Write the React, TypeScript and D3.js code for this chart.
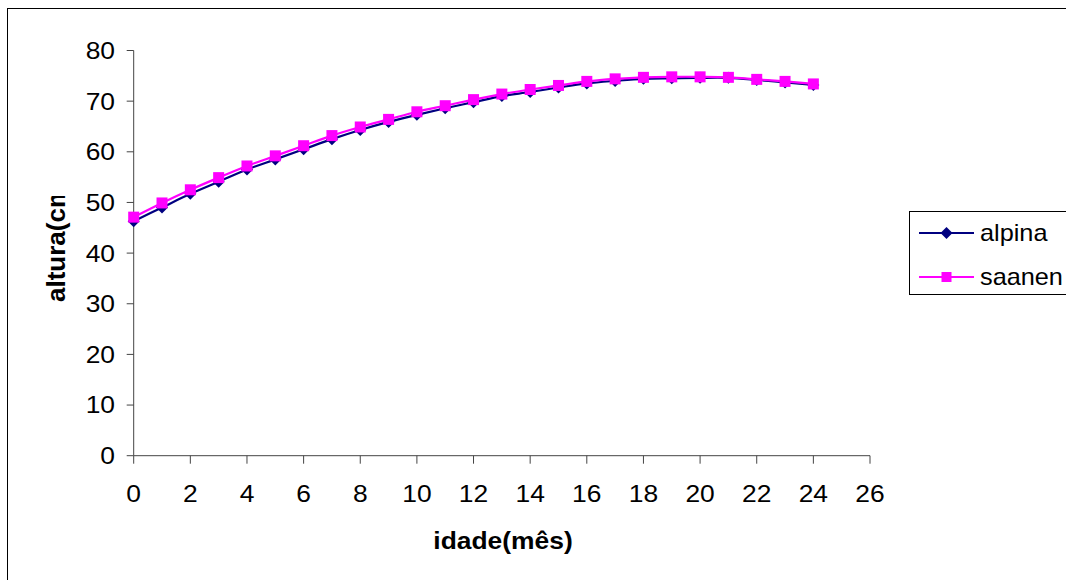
import React from "react";
import * as d3 from "d3";

const months = [0,1,2,3,4,5,6,7,8,9,10,11,12,13,14,15,16,17,18,19,20,21,22,23,24];
const alpina = [46.3,49.0,51.7,54.1,56.5,58.5,60.5,62.5,64.3,65.9,67.3,68.6,69.8,71.0,71.8,72.7,73.5,74.0,74.4,74.5,74.6,74.6,74.2,73.7,73.2];
const saanen = [47.1,49.9,52.5,54.9,57.2,59.2,61.2,63.2,64.9,66.4,67.9,69.1,70.3,71.4,72.3,73.1,73.9,74.4,74.7,74.8,74.8,74.7,74.3,73.9,73.4];
const xTicks = [0,2,4,6,8,10,12,14,16,18,20,22,24,26];
const yTicks = [0,10,20,30,40,50,60,70,80];
const seriesNames = ["alpina", "saanen"];

const W = 1066, H = 580;
const FONT = "'Liberation Sans', Arial, sans-serif";
const SX = 1.1;

export default function App() {
  const x = d3.scaleLinear().domain([0, 26]).range([133.7, 870]);
  const y = d3.scaleLinear().domain([0, 80]).range([455.7, 50.5]);
  const line = d3.line<number>().x((_, i) => x(months[i])).y(d => y(d)).curve(d3.curveCatmullRom.alpha(0.5));
  const navy = "#000080";
  const mag = "#FF00FF";
  const diamond = (cx: number, cy: number, r: number) => `M${cx},${cy - r}L${cx + r},${cy}L${cx},${cy + r}L${cx - r},${cy}Z`;

  return (
    <svg width={W} height={H} style={{ position: "absolute", left: 0, top: 0, background: "#fff" }}>
      <defs>
        <clipPath id="ytitleclip"><rect x={0} y={196} width={120} height={200} /></clipPath>
      </defs>
      <rect x={7.5} y={8.5} width={1100} height={600} fill="#fff" stroke="#000" strokeWidth={1} />
      {/* axes */}
      <line x1={x(0)} x2={x(0)} y1={y(80)} y2={y(0)} stroke="#444" strokeWidth={1} />
      <line x1={x(0)} x2={x(26)} y1={y(0)} y2={y(0)} stroke="#444" strokeWidth={1} />
      {yTicks.map(t => (
        <g key={"y" + t}>
          <line x1={x(0) - 7} x2={x(0)} y1={y(t)} y2={y(t)} stroke="#444" />
          <text transform={`translate(115,${y(t)}) scale(${SX},1)`} dy="0.35em" textAnchor="end" fontFamily={FONT} fontSize={24}>{t}</text>
        </g>
      ))}
      {xTicks.map(t => (
        <g key={"x" + t}>
          <line x1={x(t)} x2={x(t)} y1={y(0)} y2={y(0) + 8} stroke="#444" />
          <text transform={`translate(${x(t)},502) scale(${SX},1)`} textAnchor="middle" fontFamily={FONT} fontSize={24}>{t}</text>
        </g>
      ))}
      <text transform={`translate(503,549) scale(${SX},1)`} textAnchor="middle" fontFamily={FONT} fontSize={24} fontWeight="bold">idade(mês)</text>
      <g clipPath="url(#ytitleclip)">
        <text transform="translate(65,302) rotate(-90)" textAnchor="start" fontFamily={FONT} fontSize={26} fontWeight="bold">altura(cm)</text>
      </g>
      {/* series */}
      <path d={line(alpina) || ""} fill="none" stroke={navy} strokeWidth={2.2} />
      {alpina.map((v, i) => <path key={"a" + i} d={diamond(x(months[i]), y(v), 6)} fill={navy} />)}
      <path d={line(saanen) || ""} fill="none" stroke={mag} strokeWidth={2.2} />
      {saanen.map((v, i) => <rect key={"s" + i} x={x(months[i]) - 5.5} y={y(v) - 5.5} width={11} height={11} fill={mag} />)}
      {/* legend */}
      <rect x={909.5} y={211.5} width={200} height={83} fill="#fff" stroke="#000" />
      <line x1={919} x2={974} y1={233} y2={233} stroke={navy} strokeWidth={2} />
      <path d={diamond(946.5, 233, 6)} fill={navy} />
      <text transform={`translate(980,233) scale(${SX},1)`} dy="0.35em" fontFamily={FONT} fontSize={23}>{seriesNames[0]}</text>
      <line x1={919} x2={974} y1={277} y2={277} stroke={mag} strokeWidth={2} />
      <rect x={941.5} y={272} width={10} height={10} fill={mag} />
      <text transform={`translate(980,277) scale(${SX},1)`} dy="0.35em" fontFamily={FONT} fontSize={23}>{seriesNames[1]}</text>
    </svg>
  );
}
